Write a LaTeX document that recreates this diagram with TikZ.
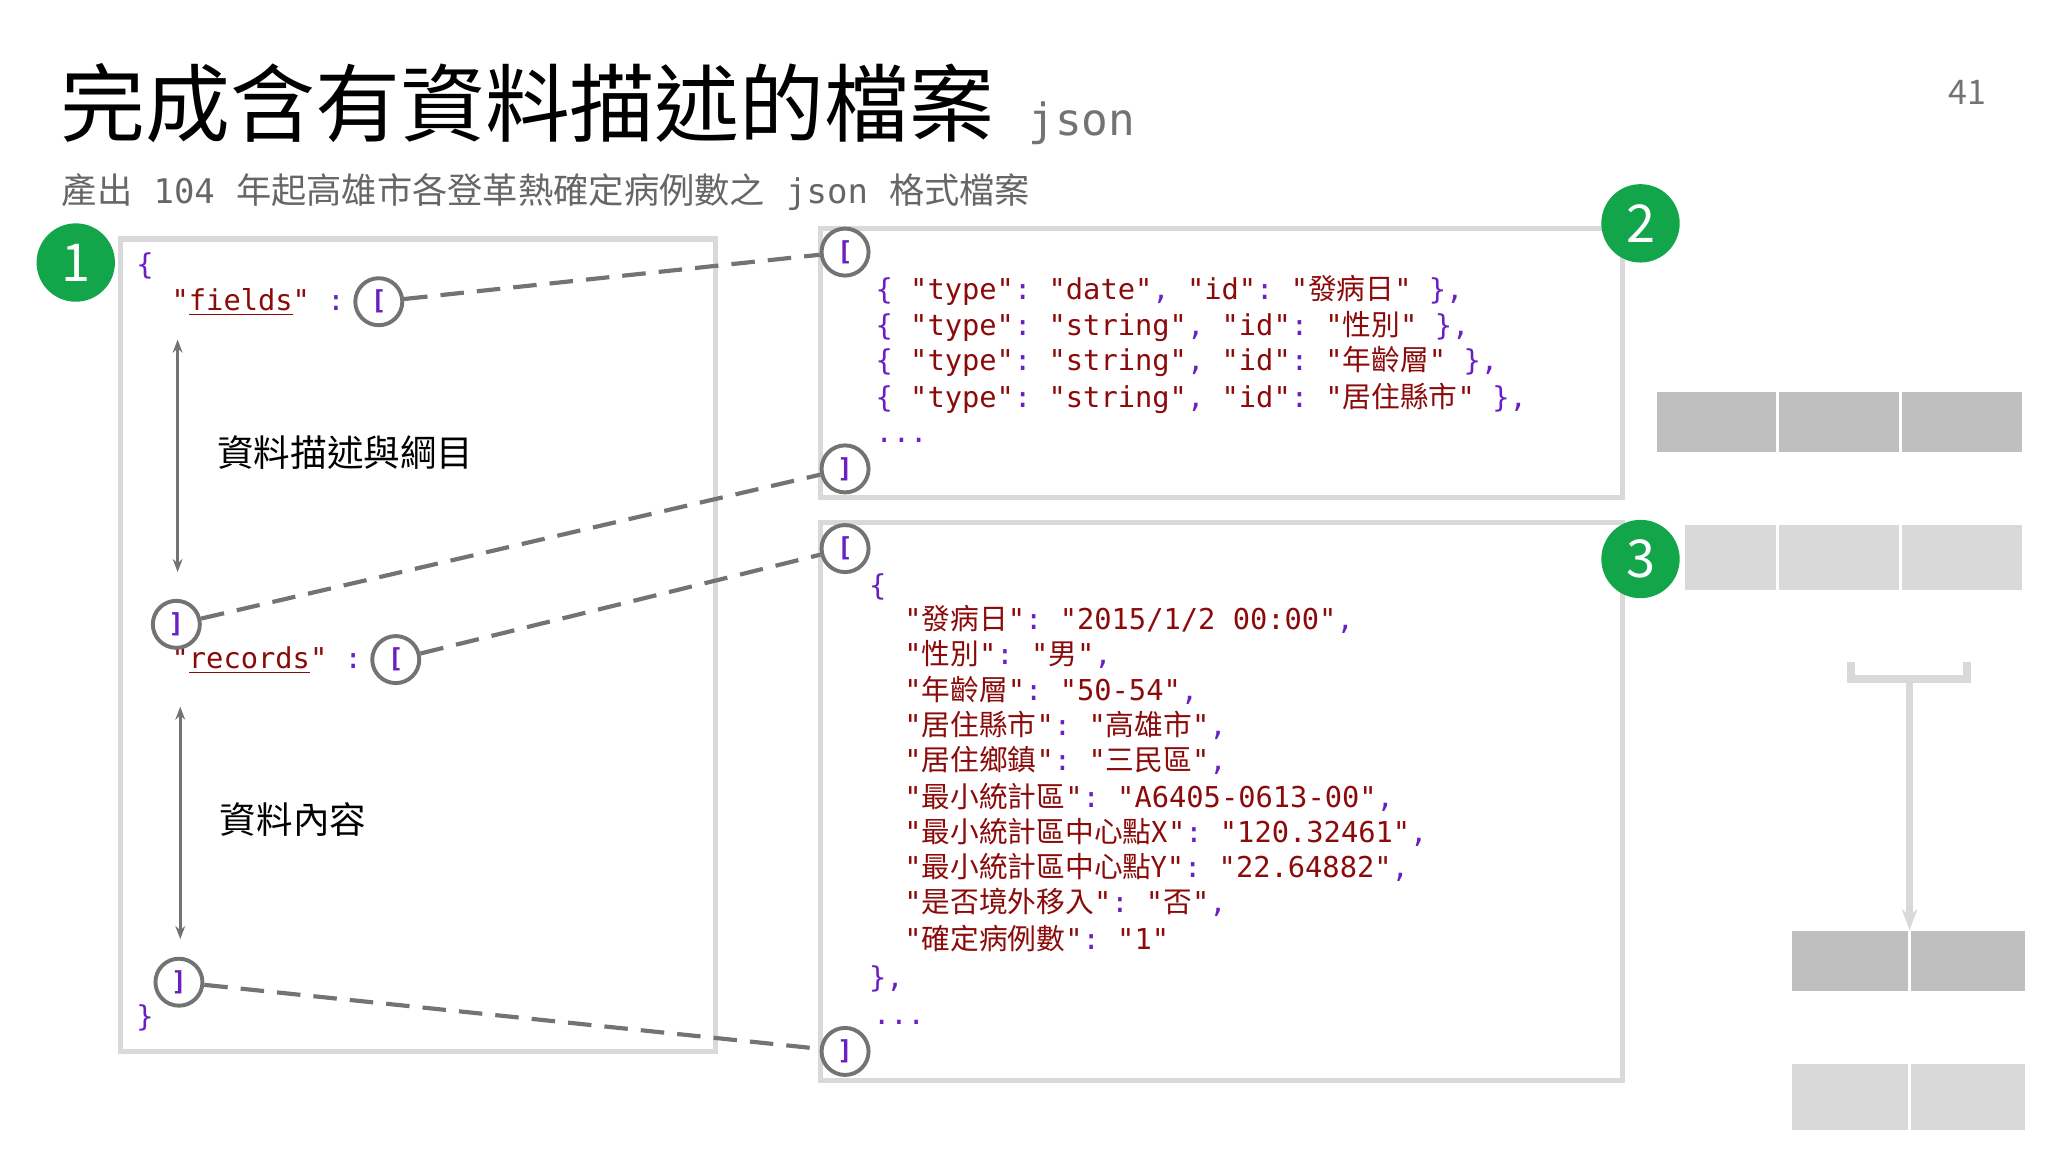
\documentclass[tikz,border=0pt]{standalone}
\usepackage{fontspec}
\setmainfont{Noto Sans CJK TC}
\setmonofont{DejaVu Sans Mono}
\newfontfamily\cjk{Noto Sans CJK TC}
\usetikzlibrary{arrows.meta}
\definecolor{pu}{HTML}{6A1FC2}
\definecolor{sr}{HTML}{8B0A0A}
\definecolor{gn}{HTML}{12A54A}
\definecolor{bx}{HTML}{D9D9D9}
\definecolor{gb}{HTML}{BFBFBF}
\newcommand{\pp}[1]{\textcolor{pu}{#1}}
\begin{document}
\begin{tikzpicture}[x=0.5pt,y=-0.5pt,
  frame/.style={draw=bx,line width=2pt},
  ring/.style={circle,draw=black!55,line width=1.5pt,fill=white,minimum size=18pt,inner sep=0pt,font=\ttfamily\bfseries,text=pu},
  badge/.style={circle,fill=gn,text=white,minimum size=30pt,inner sep=0pt,font=\fontsize{20}{20}\selectfont},
  dashln/.style={draw=black!55,line width=1.6pt,dash pattern=on 9pt off 5pt},
  code/.style={anchor=base west,inner sep=0pt,font=\ttfamily\fontsize{11}{11}\selectfont,text=sr},
  lab/.style={anchor=base west,inner sep=0pt,font=\fontsize{14}{14}\selectfont},
  dbl/.style={draw=black!55,line width=1pt,{Stealth[length=5pt]}-{Stealth[length=5pt]}}]
\useasboundingbox (0,0) rectangle (1568,882);
% title
\node[anchor=base west,inner sep=0pt,font=\fontsize{32.5}{32.5}\selectfont] (title) at (46,104) {完成含有資料描述的檔案};
\node[anchor=base west,inner sep=0pt,font=\ttfamily\fontsize{17}{17}\selectfont,text=black!55] (tj) at (787,104) {json};
\node[anchor=base east,inner sep=0pt,font=\fontsize{13}{13}\selectfont,text=black!55] (pg) at (1521,80) {41};
\node[anchor=base west,inner sep=0pt,font=\fontsize{13.5}{13.5}\selectfont,text=black!60] (sub) at (47,156) {產出\hspace{0.6em}\texttt{\fontsize{13}{13}\selectfont 104}\hspace{0.6em}年起高雄市各登革熱確定病例數之\hspace{0.6em}\texttt{\fontsize{13}{13}\selectfont json}\hspace{0.6em}格式檔案};
% boxes
\draw[frame] (92,183) rectangle (548,805);
\draw[frame] (628,175) rectangle (1242,381);
\draw[frame] (628,400) rectangle (1242,827);
% right blocks
\fill[gb] (1269,300) rectangle (1548,346);
\fill[bx] (1290,402) rectangle (1548,452);
\fill[gb] (1372,713) rectangle (1550,759);
\fill[bx] (1372,815) rectangle (1550,865);
\foreach \x in {1361,1455} {\draw[white,line width=1pt] (\x,300)--(\x,346); \draw[white,line width=1pt] (\x,402)--(\x,452);}
\draw[white,line width=1pt] (1462,713)--(1462,759) (1462,815)--(1462,865);
\coordinate (bl) at (1417,507); \coordinate (br) at (1506,507);
\coordinate (bm) at (1462,520); \coordinate (be) at (1462,712);
\draw[bx,line width=3pt] (bl) |- (bm) -| (br);
\draw[bx,line width=3pt,-{Stealth[length=8pt]}] (bm) -- (be);
% badges
\node[badge] (b1) at (58,201) {1};
\node[badge] (b2) at (1256,171) {2};
\node[badge] (b3) at (1256,428) {3};
% left text
\node[code,text=pu] (lo) at (104,210) {\{};
\node[code] (kf) at (131,238) {"\underline{fields}" \pp{:}};
\node[lab] (l1) at (166,357) {資料描述與綱目};
\node[code] (kr) at (131,512) {"\underline{records}" \pp{:}};
\node[lab] (l2) at (168,638) {資料內容};
\node[code,text=pu] (lc) at (104,786) {\}};
\coordinate (a1) at (136,260); \coordinate (a2) at (136,438);
\coordinate (a3) at (138,541); \coordinate (a4) at (138,719);
\draw[dbl] (a1)--(a2);
\draw[dbl] (a3)--(a4);
% rings
\node[ring] (r1) at (290,231) {[};
\node[ring] (r2) at (647,193) {[};
\node[ring] (r3) at (647,359) {]};
\node[ring] (r4) at (135,478) {]};
\node[ring] (r5) at (303,505) {[};
\node[ring] (r6) at (647,420) {[};
\node[ring] (r7) at (137,752) {]};
\node[ring] (r8) at (647,805) {]};
\draw[dashln] (r1) -- (r2);
\draw[dashln] (r4) -- (r3);
\draw[dashln] (r5) -- (r6);
\draw[dashln] (r7) -- (r8);
% box 2 code
\node[code] (c1) at (670,229) {\pp{\{} "type"\pp{:} "date"\pp{,} "id"\pp{:} "{\cjk 發病日}" \pp{\},}};
\node[code] (c2) at (670,257) {\pp{\{} "type"\pp{:} "string"\pp{,} "id"\pp{:} "{\cjk 性別}" \pp{\},}};
\node[code] (c3) at (670,284) {\pp{\{} "type"\pp{:} "string"\pp{,} "id"\pp{:} "{\cjk 年齡層}" \pp{\},}};
\node[code] (c4) at (670,312) {\pp{\{} "type"\pp{:} "string"\pp{,} "id"\pp{:} "{\cjk 居住縣市}" \pp{\},}};
\node[code,text=pu] (c5) at (670,339) {...};
% box 3 code
\node[code,text=pu] (d0) at (665,456) {\{};
\node[code] (d1) at (692,482) {"{\cjk 發病日}"\pp{:} "2015/1/2 00:00"\pp{,}};
\node[code] (d2) at (692,509) {"{\cjk 性別}"\pp{:} "{\cjk 男}"\pp{,}};
\node[code] (d3) at (692,536) {"{\cjk 年齡層}"\pp{:} "50-54"\pp{,}};
\node[code] (d4) at (692,563) {"{\cjk 居住縣市}"\pp{:} "{\cjk 高雄市}"\pp{,}};
\node[code] (d5) at (692,590) {"{\cjk 居住鄉鎮}"\pp{:} "{\cjk 三民區}"\pp{,}};
\node[code] (d6) at (692,618) {"{\cjk 最小統計區}"\pp{:} "A6405-0613-00"\pp{,}};
\node[code] (d7) at (692,645) {"{\cjk 最小統計區中心點X}"\pp{:} "120.32461"\pp{,}};
\node[code] (d8) at (692,672) {"{\cjk 最小統計區中心點Y}"\pp{:} "22.64882"\pp{,}};
\node[code] (d9) at (692,699) {"{\cjk 是否境外移入}"\pp{:} "{\cjk 否}"\pp{,}};
\node[code] (d10) at (692,727) {"{\cjk 確定病例數}"\pp{:} "1"};
\node[code,text=pu] (d11) at (665,756) {\},};
\node[code,text=pu] (d12) at (668,784) {...};
\end{tikzpicture}
\end{document}
